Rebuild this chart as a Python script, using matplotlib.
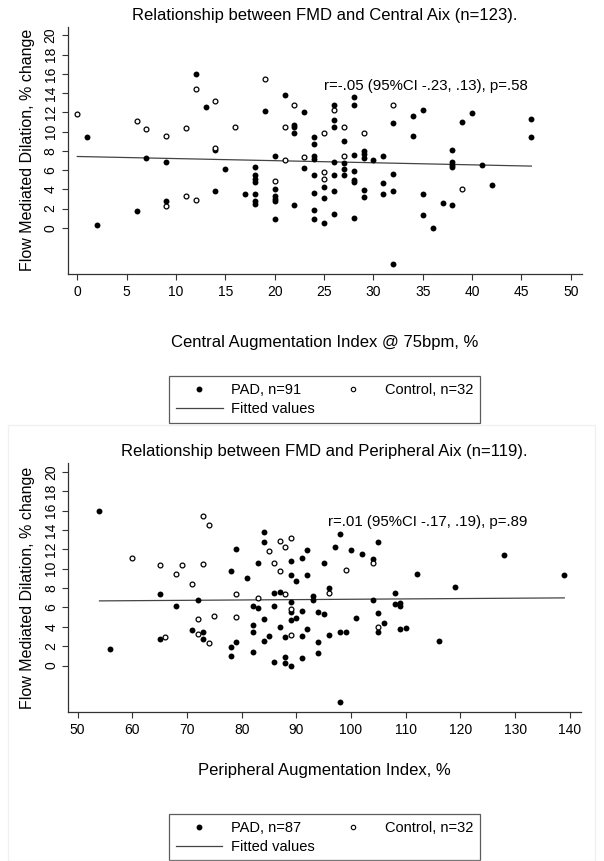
import matplotlib
matplotlib.use('Agg')
import matplotlib.pyplot as plt
from matplotlib.lines import Line2D
from matplotlib.patches import Rectangle

plt.rcParams['font.family'] = ['Liberation Sans', 'DejaVu Sans']

# --- top panel: FMD vs central AIx ---
c_pad_x = [1, 2, 6, 7, 9, 9, 12, 13, 14, 14, 15, 17,
           18, 18, 18, 18, 18, 18, 18, 19,
           20, 20, 20, 20, 20, 20, 21, 22, 22, 22, 22, 23, 23,
           24, 24, 24, 24, 24, 24, 24, 24, 25, 25, 25,
           26, 26, 26, 26, 26, 26, 26, 27, 27, 27, 27,
           28, 28, 28, 28, 28, 28, 28, 29, 29, 29, 29, 29,
           30, 31, 31, 31, 32, 32, 32, 32, 34, 34,
           35, 35, 35, 36, 37, 38, 38, 38, 38, 38, 39, 40, 41, 42, 46, 46]
c_pad_y = [9.4, 0.3, 1.7, 7.3, 6.8, 2.8, 16.0, 12.6, 8.1, 3.8, 6.1, 3.5,
           6.3, 5.5, 5.1, 4.8, 3.5, 2.8, 2.5, 12.1,
           7.5, 4.0, 3.3, 3.0, 2.8, 0.9, 13.8, 10.7, 10.5, 9.8, 2.4, 12.0, 6.2,
           9.4, 8.7, 7.5, 7.2, 5.5, 3.6, 1.9, 0.9, 4.2, 3.1, 0.5,
           12.8, 11.2, 10.5, 6.8, 5.5, 3.8, 1.4, 9.0, 6.7, 6.1, 5.5,
           13.6, 12.8, 7.6, 5.9, 5.0, 4.8, 1.0, 8.0, 7.7, 7.3, 3.9, 3.2,
           7.0, 7.5, 4.7, 3.5, 10.9, 5.6, 3.8, -3.8, 11.6, 9.5,
           12.2, 3.5, 1.3, 0.0, 2.6, 8.1, 6.8, 6.5, 6.3, 2.4, 11.0, 11.9, 6.5, 4.4, 11.3, 9.4]
c_ctl_x = [0, 6, 7, 9, 9, 11, 11, 12, 12, 14, 14, 16, 19, 20, 21, 21, 22, 23,
           25, 25, 25, 26, 27, 27, 29, 32, 39]
c_ctl_y = [11.8, 11.1, 10.3, 9.5, 2.3, 10.4, 3.3, 14.4, 2.9, 13.2, 8.3, 10.5, 15.5, 4.9,
           10.5, 7.0, 12.8, 7.4, 9.9, 5.8, 5.1, 12.2, 10.5, 7.5, 9.9, 12.8, 4.0]
c_fit = (7.41, -0.0217)   # intercept, slope of the fitted line

# --- bottom panel: FMD vs peripheral AIx ---
p_pad_x = [54, 56, 65, 65, 68, 71, 72, 73, 73, 78, 78, 78, 79, 79,
           81, 82, 82, 82, 82, 83, 83, 84, 84, 84, 84, 85, 86, 86, 86, 87, 87,
           88, 88, 88, 89, 89, 89, 89, 89, 89, 90, 90, 91, 91, 91, 91,
           92, 92, 92, 93, 93, 94, 94, 94, 95, 95, 96, 96, 97, 98, 98, 98,
           99, 100, 101, 102, 104, 104, 105, 105, 105, 106, 108, 108,
           109, 109, 109, 110, 112, 116, 119, 128, 139]
p_pad_y = [16.0, 1.7, 7.4, 2.7, 6.1, 3.7, 6.8, 3.5, 2.7, 9.8, 1.9, 1.0, 12.0, 2.4,
           9.0, 6.2, 4.2, 3.5, 1.4, 10.6, 5.9, 13.8, 12.8, 4.8, 2.5, 3.0, 7.5, 6.1, 0.4, 7.6, 4.0,
           2.9, 0.9, 0.3, 10.8, 9.4, 6.6, 5.5, 4.7, 0.0, 8.7, 4.9, 11.1, 5.6, 3.1, 0.8,
           11.9, 9.4, 3.8, 7.2, 6.8, 5.5, 2.4, 1.3, 10.6, 5.3, 8.0, 3.2, 12.3, 13.6, 3.5, -3.8,
           3.5, 11.9, 4.9, 11.5, 11.0, 6.8, 12.8, 5.4, 3.5, 4.4, 7.5, 6.4,
           6.5, 6.1, 3.8, 3.9, 9.5, 2.5, 8.1, 11.4, 9.4]
p_ctl_x = [60, 65, 66, 68, 69, 71, 72, 72, 73, 73, 74, 74, 75, 79, 79, 83, 85,
           86, 87, 87, 88, 88, 89, 89, 89, 96, 99, 104, 105]
p_ctl_y = [11.1, 10.4, 2.9, 9.5, 10.4, 8.4, 4.8, 3.3, 15.5, 10.5, 14.5, 2.3, 5.1, 7.4, 5.0,
           7.0, 11.8, 10.6, 12.9, 9.8, 12.3, 7.4, 13.2, 5.8, 3.2, 7.5, 9.9, 10.6, 4.0]
p_fit = (6.483, 0.00365)

y_ticks = list(range(0, 21, 2))


def panel(ax, pad_x, pad_y, ctl_x, ctl_y, fit, title, xlabel, xticks, xlim,
          stat, stat_pos, n_pad, n_ctl, xlab_y, ylab_x, leg_y):
    ax.scatter(pad_x, pad_y, s=18, c='black', linewidths=0, zorder=3)
    ax.scatter(ctl_x, ctl_y, s=12, facecolors='white', edgecolors='black',
               linewidths=0.9, zorder=3)
    allx = pad_x + ctl_x
    xs = [min(allx), max(allx)]
    ys = [fit[0] + fit[1] * v for v in xs]
    ax.plot(xs, ys, color='#444444', lw=0.9, zorder=2)

    ax.set_xlim(xlim)
    ax.set_ylim(-4.8, 20.9)
    ax.set_xticks(xticks)
    ax.set_yticks(y_ticks)
    for s in ['top', 'right']:
        ax.spines[s].set_visible(False)
    for s in ['left', 'bottom']:
        ax.spines[s].set_color('#333333')
        ax.spines[s].set_linewidth(0.9)
    ax.tick_params(axis='both', length=4.3, width=0.8, color='#333333', labelsize=10)
    ax.tick_params(axis='y', labelrotation=90, pad=3)
    ax.tick_params(axis='x', pad=4)
    for t in ax.get_yticklabels():
        t.set_va('center')

    ax.set_ylabel('Flow Mediated Dilation, % change', fontsize=11.5)
    ax.yaxis.set_label_coords(ylab_x, 0.5)
    ax.set_xlabel(xlabel, fontsize=12)
    ax.xaxis.set_label_coords(0.5, xlab_y)
    ax.text(0.5, 1.047, title, transform=ax.transAxes, ha='center',
            va='center', fontsize=12)
    ax.text(stat_pos[0], stat_pos[1], stat, transform=ax.transAxes,
            ha='center', va='center', fontsize=10.8)

    h_pad = Line2D([], [], ls='none', marker='o', ms=3.2, mfc='black', mec='black')
    h_ctl = Line2D([], [], ls='none', marker='o', ms=3.2, mfc='white',
                   mec='black', mew=0.8)
    h_fit = Line2D([], [], color='#444444', lw=0.9)
    leg = ax.legend([h_pad, h_fit, h_ctl],
                    ['PAD, n=%d' % n_pad, 'Fitted values', 'Control, n=%d' % n_ctl],
                    ncol=2, loc='upper center', bbox_to_anchor=(0.5, leg_y),
                    fontsize=10.5, frameon=True, fancybox=False,
                    handlelength=3.2, handletextpad=0.6, columnspacing=1.0,
                    borderpad=0.45, labelspacing=0.35)
    leg.get_frame().set_edgecolor('#333333')
    leg.get_frame().set_linewidth(0.9)


fig = plt.figure(figsize=(6.04, 8.61), dpi=100)

# faint frame around the lower graph
fig.patches.append(Rectangle((8 / 604, 0), 587 / 604, 436 / 861,
                             transform=fig.transFigure, fill=False,
                             edgecolor='#f0f0f0', lw=1))

ax1 = fig.add_axes([0.1121, 0.6818, 0.851, 0.2872])
panel(ax1, c_pad_x, c_pad_y, c_ctl_x, c_ctl_y, c_fit,
      'Relationship between FMD and Central Aix (n=123).',
      'Central Augmentation Index @ 75bpm, %', list(range(0, 51, 5)), (-0.97, 51.1),
      'r=-.05 (95%CI -.23, .13), p=.58', (0.696, 0.760), 91, 32,
      -0.245, -0.064, -0.385)

ax2 = fig.add_axes([0.1131, 0.1731, 0.8483, 0.2888])
panel(ax2, p_pad_x, p_pad_y, p_ctl_x, p_ctl_y, p_fit,
      'Relationship between FMD and Peripheral Aix (n=119).',
      'Peripheral Augmentation Index, %', list(range(50, 141, 10)), (48.3, 142.0),
      'r=.01 (95%CI -.17, .19), p=.89', (0.7016, 0.763), 87, 32,
      -0.205, -0.065, -0.382)

fig.savefig('out.png', dpi=100)
